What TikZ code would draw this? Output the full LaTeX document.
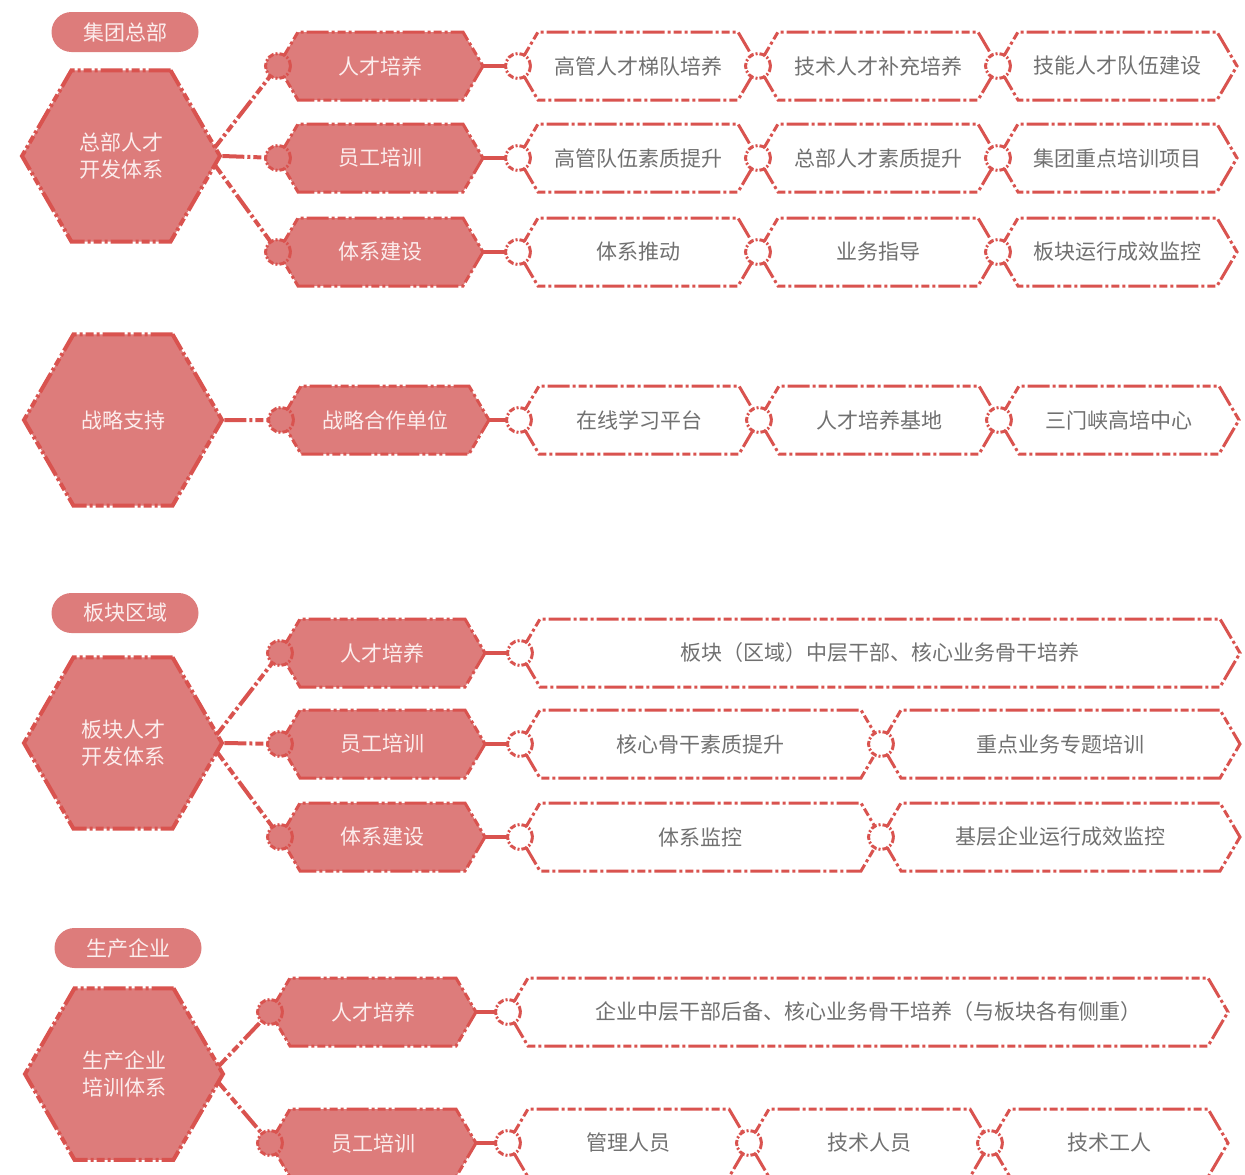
\documentclass[tikz,border=0pt]{standalone}
\usepackage{fontspec}
\setmainfont{Noto Sans CJK SC}
\usepackage{tikz}
\usetikzlibrary{shapes.geometric,calc}
\pgfdeclarelayer{sotto}
\pgfsetlayers{sotto,main}
\definecolor{rosso}{HTML}{D9534F}
\definecolor{rosa}{HTML}{DD7C7B}
\definecolor{grigio}{HTML}{707070}
\definecolor{chiaro}{HTML}{FCEDED}

\begin{document}
\begin{tikzpicture}[x=1pt,y=-1pt,
	dd/.style = {dash pattern=on 22pt off 3pt on 3pt off 3pt on 8pt off 3pt on 3pt off 3pt},
	bighex/.style = {regular polygon,regular polygon sides=6,minimum size=198pt,inner sep=0pt,fill=rosa,draw=rosso,line width=4pt,dd,text=chiaro,align=center,font=\fontsize{21}{27}\selectfont},
	pill/.style = {fill=rosa,rounded corners=20pt,minimum width=147pt,minimum height=40pt,inner sep=0pt,text=chiaro,font=\fontsize{21}{26}\selectfont},
	ring/.style = {circle,minimum size=25pt,inner sep=0pt,fill=white,draw=rosso,line width=3pt,dash pattern=on 6pt off 2pt on 2pt off 2pt},
	dot/.style = {ring,fill=rosa},
	hexto/.style = {draw=rosso,line width=3pt,dd,to path={-- ($(\tikztostart)+(20,-34)$) -- ($(\tikztotarget)+(-20,-34)$) -- (\tikztotarget) -- ($(\tikztotarget)+(-20,34)$) -- ($(\tikztostart)+(20,34)$) -- cycle}},
	fhexto/.style = {hexto,fill=rosa},
	link/.style = {draw=rosso,line width=4pt,dd},
	txt/.style = {text=grigio,font=\fontsize{21}{26}\selectfont},
	ftxt/.style = {text=chiaro,font=\fontsize{21}{26}\selectfont}
	]
	\useasboundingbox (0,0) rectangle (1245,1175);
	%GRUPPO
	\node[pill] (P1) at (125,32) {集团总部};
	\node[bighex] (H1) at (121,156) {总部人才\\开发体系};
	\node[dot] (fa) at (278,66) {};
	\node[dot] (fb) at (278,158) {};
	\node[dot] (fc) at (278,252) {};
	\coordinate (ga) at (483,66);
	\coordinate (gb) at (483,158);
	\coordinate (gc) at (483,252);
	\node[ring] (oa1) at (518,66) {};
	\node[ring] (oa2) at (758,66) {};
	\node[ring] (oa3) at (998,66) {};
	\coordinate (ea) at (1237,66);
	\node[ring] (ob1) at (518,158) {};
	\node[ring] (ob2) at (758,158) {};
	\node[ring] (ob3) at (998,158) {};
	\coordinate (eb) at (1237,158);
	\node[ring] (oc1) at (518,252) {};
	\node[ring] (oc2) at (758,252) {};
	\node[ring] (oc3) at (998,252) {};
	\coordinate (ec) at (1237,252);
	\node[ftxt] (sa) at ($(fa)!.5!(ga)$) {人才培养};
	\node[ftxt] (sb) at ($(fb)!.5!(gb)$) {员工培训};
	\node[ftxt] (sc) at ($(fc)!.5!(gc)$) {体系建设};
	\node[txt] (ta1) at ($(oa1)!.5!(oa2)$) {高管人才梯队培养};
	\node[txt] (ta2) at ($(oa2)!.5!(oa3)$) {技术人才补充培养};
	\node[txt] (ta3) at ($(oa3)!.5!(ea)$) {技能人才队伍建设};
	\node[txt] (tb1) at ($(ob1)!.5!(ob2)$) {高管队伍素质提升};
	\node[txt] (tb2) at ($(ob2)!.5!(ob3)$) {总部人才素质提升};
	\node[txt] (tb3) at ($(ob3)!.5!(eb)$) {集团重点培训项目};
	\node[txt] (tc1) at ($(oc1)!.5!(oc2)$) {体系推动};
	\node[txt] (tc2) at ($(oc2)!.5!(oc3)$) {业务指导};
	\node[txt] (tc3) at ($(oc3)!.5!(ec)$) {板块运行成效监控};
	%STRATEGIA
	\node[bighex] (H2) at (123,420) {战略支持};
	\node[dot] (fd) at (281,420) {};
	\coordinate (gd) at (489,420);
	\node[ring] (od1) at (519,420) {};
	\node[ring] (od2) at (759,420) {};
	\node[ring] (od3) at (999,420) {};
	\coordinate (ed) at (1239,420);
	\node[ftxt] (sd) at ($(fd)!.5!(gd)$) {战略合作单位};
	\node[txt] (td1) at ($(od1)!.5!(od2)$) {在线学习平台};
	\node[txt] (td2) at ($(od2)!.5!(od3)$) {人才培养基地};
	\node[txt] (td3) at ($(od3)!.5!(ed)$) {三门峡高培中心};
	%SETTORI
	\node[pill] (P3) at (125,613) {板块区域};
	\node[bighex] (H3) at (123,743) {板块人才\\开发体系};
	\node[dot] (fe) at (280,653) {};
	\node[dot] (ff) at (280,744) {};
	\node[dot] (fg) at (280,837) {};
	\coordinate (ge) at (485,653);
	\coordinate (gf) at (485,744);
	\coordinate (gg) at (485,837);
	\node[ring] (oe1) at (520,653) {};
	\coordinate (ee) at (1240,653);
	\node[ring] (of1) at (520,744) {};
	\node[ring] (of2) at (881,744) {};
	\coordinate (ef) at (1240,744);
	\node[ring] (og1) at (520,837) {};
	\node[ring] (og2) at (881,837) {};
	\coordinate (eg) at (1240,837);
	\node[ftxt] (se) at ($(fe)!.5!(ge)$) {人才培养};
	\node[ftxt] (sf) at ($(ff)!.5!(gf)$) {员工培训};
	\node[ftxt] (sg) at ($(fg)!.5!(gg)$) {体系建设};
	\node[txt] (te1) at ($(oe1)!.5!(ee)$) {板块（区域）中层干部、核心业务骨干培养};
	\node[txt] (tf1) at ($(of1)!.5!(of2)$) {核心骨干素质提升};
	\node[txt] (tf2) at ($(of2)!.5!(ef)$) {重点业务专题培训};
	\node[txt] (tg1) at ($(og1)!.5!(og2)$) {体系监控};
	\node[txt] (tg2) at ($(og2)!.5!(eg)$) {基层企业运行成效监控};
	%IMPRESE
	\node[pill] (P4) at (128,948) {生产企业};
	\node[bighex] (H4) at (124,1074) {生产企业\\培训体系};
	\node[dot] (fh) at (270,1012) {};
	\node[dot] (fi) at (270,1143) {};
	\coordinate (gh) at (476,1012);
	\coordinate (gi) at (476,1143);
	\node[ring] (oh1) at (508,1012) {};
	\coordinate (eh) at (1228,1012);
	\node[ring] (oi1) at (508,1143) {};
	\node[ring] (oi2) at (749,1143) {};
	\node[ring] (oi3) at (990,1143) {};
	\coordinate (ei) at (1228,1143);
	\node[ftxt] (sh) at ($(fh)!.5!(gh)$) {人才培养};
	\node[ftxt] (si) at ($(fi)!.5!(gi)$) {员工培训};
	\node[txt] (th1) at ($(oh1)!.5!(eh)$) {企业中层干部后备、核心业务骨干培养（与板块各有侧重）};
	\node[txt] (ti1) at ($(oi1)!.5!(oi2)$) {管理人员};
	\node[txt] (ti2) at ($(oi2)!.5!(oi3)$) {技术人员};
	\node[txt] (ti3) at ($(oi3)!.5!(ei)$) {技术工人};
	%COLLEGAMENTI E RIQUADRI
	\begin{pgfonlayer}{sotto}
		\draw[link] ([xshift=-14pt]H1.east) -- (fa.center);
		\draw[link] (H1.east) -- (fb.center);
		\draw[link] ([xshift=-14pt]H1.east) -- (fc.center);
		\draw[link] (H2.east) -- (fd.center);
		\draw[link] ([xshift=-14pt]H3.east) -- (fe.center);
		\draw[link] (H3.east) -- (ff.center);
		\draw[link] ([xshift=-14pt]H3.east) -- (fg.center);
		\draw[link] ([xshift=-14pt]H4.east) -- (fh.center);
		\draw[link] ([xshift=-14pt]H4.east) -- (fi.center);
		\draw[link] (ga) -- (oa1.center);
		\draw[link] (gb) -- (ob1.center);
		\draw[link] (gc) -- (oc1.center);
		\draw[link] (gd) -- (od1.center);
		\draw[link] (ge) -- (oe1.center);
		\draw[link] (gf) -- (of1.center);
		\draw[link] (gg) -- (og1.center);
		\draw[link] (gh) -- (oh1.center);
		\draw[link] (gi) -- (oi1.center);
		\draw[fhexto] (fa.center) to (ga);
		\draw[fhexto] (fb.center) to (gb);
		\draw[fhexto] (fc.center) to (gc);
		\draw[fhexto] (fd.center) to (gd);
		\draw[fhexto] (fe.center) to (ge);
		\draw[fhexto] (ff.center) to (gf);
		\draw[fhexto] (fg.center) to (gg);
		\draw[fhexto] (fh.center) to (gh);
		\draw[fhexto] (fi.center) to (gi);
		\draw[hexto] (oa1.center) to (oa2.center);
		\draw[hexto] (oa2.center) to (oa3.center);
		\draw[hexto] (oa3.center) to (ea);
		\draw[hexto] (ob1.center) to (ob2.center);
		\draw[hexto] (ob2.center) to (ob3.center);
		\draw[hexto] (ob3.center) to (eb);
		\draw[hexto] (oc1.center) to (oc2.center);
		\draw[hexto] (oc2.center) to (oc3.center);
		\draw[hexto] (oc3.center) to (ec);
		\draw[hexto] (od1.center) to (od2.center);
		\draw[hexto] (od2.center) to (od3.center);
		\draw[hexto] (od3.center) to (ed);
		\draw[hexto] (oe1.center) to (ee);
		\draw[hexto] (of1.center) to (of2.center);
		\draw[hexto] (of2.center) to (ef);
		\draw[hexto] (og1.center) to (og2.center);
		\draw[hexto] (og2.center) to (eg);
		\draw[hexto] (oh1.center) to (eh);
		\draw[hexto] (oi1.center) to (oi2.center);
		\draw[hexto] (oi2.center) to (oi3.center);
		\draw[hexto] (oi3.center) to (ei);
	\end{pgfonlayer}
\end{tikzpicture}
\end{document}
